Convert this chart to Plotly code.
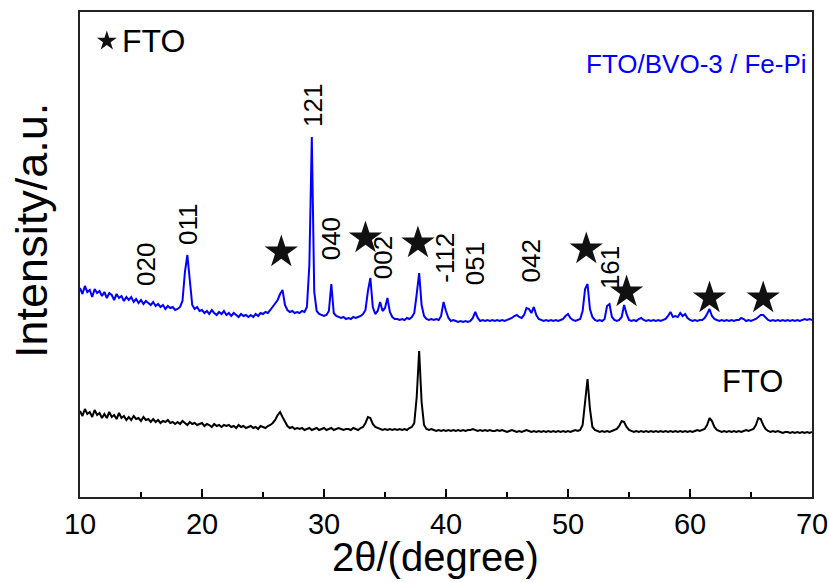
import numpy as np
import plotly.graph_objects as go

# 2-theta sampling grid (degrees), step 0.2
two_theta = np.round(np.arange(10.0, 70.0001, 0.2), 1)

# FTO/BVO-3 / Fe-Pi pattern (offset, arbitrary units)
bvo_intensity = [
    209, 203, 211, 205, 207, 200, 208, 204, 206, 201,
    205, 199, 204, 202, 197, 203, 199, 201, 196, 200,
    197, 200, 195, 198, 194, 197, 193, 196, 194, 192,
    195, 191, 193, 190, 192, 188, 191, 189, 190, 187,
    188, 190, 196, 225, 242, 215, 192, 188, 190, 186,
    187, 184, 186, 183, 187, 184, 182, 185, 183, 186,
    182, 184, 181, 184, 182, 180, 183, 181, 182, 180,
    182, 180, 183, 181, 184, 183, 185, 184, 187, 190,
    193, 197, 203, 207, 192, 187, 185, 186, 184, 185,
    184, 186, 185, 190, 232, 360, 205, 186, 183, 182,
    181, 182, 186, 213, 184, 181, 180, 179, 180, 178,
    179, 178, 180, 179, 180, 181, 183, 187, 206, 219,
    190, 183, 186, 195, 186, 189, 199, 185, 180, 178,
    178, 177, 178, 177, 179, 178, 180, 184, 203, 224,
    192, 181, 178, 177, 178, 177, 178, 177, 181, 195,
    186, 179, 176, 177, 176, 175, 176, 175, 176, 175,
    176, 179, 185, 179, 176, 177, 176, 177, 176, 177,
    176, 177, 176, 177, 176, 177, 178, 179, 181, 182,
    180, 179, 182, 189, 188, 184, 190, 182, 178, 177,
    176, 177, 176, 177, 176, 177, 176, 177, 178, 181,
    183, 179, 177, 176, 177, 178, 186, 208, 213, 188,
    180, 177, 176, 177, 176, 178, 191, 193, 180, 177,
    176, 177, 180, 192, 183, 177, 176, 177, 176, 178,
    179, 177, 176, 177, 176, 177, 176, 177, 176, 177,
    178, 181, 185, 180, 181, 180, 184, 181, 183, 179,
    177, 176, 177, 176, 177, 177, 179, 183, 188, 181,
    178, 177, 176, 177, 176, 177, 176, 177, 176, 177,
    177, 179, 178, 176, 177, 176, 177, 178, 180, 182,
    182, 179, 177, 176, 177, 176, 177, 176, 177, 176,
    177, 176, 177, 176, 177, 176, 177, 178, 177, 178,
    177,
]

# bare FTO pattern (arbitrary units)
fto_intensity = [
    86, 81, 88, 83, 85, 80, 87, 82, 84, 79,
    83, 79, 85, 80, 82, 78, 84, 79, 81, 77,
    80, 77, 81, 78, 79, 76, 80, 77, 78, 75,
    78, 75, 77, 74, 76, 75, 77, 74, 75, 73,
    75, 73, 76, 74, 72, 75, 73, 74, 72, 73,
    74, 71, 73, 72, 70, 73, 71, 72, 70, 72,
    71, 72, 70, 71, 69, 72, 70, 71, 69, 70,
    71, 69, 70, 68, 71, 70, 69, 71, 72, 74,
    77, 82, 85, 80, 75, 71, 69, 70, 68, 69,
    68, 69, 67, 68, 69, 67, 68, 69, 67, 68,
    69, 67, 68, 69, 67, 68, 69, 68, 67, 68,
    68, 67, 69, 68, 67, 69, 70, 74, 80, 79,
    73, 70, 69, 68, 67, 68, 67, 68, 67, 68,
    67, 68, 67, 68, 67, 69, 70, 74, 100, 146,
    95, 72, 68, 67, 68, 67, 66, 67, 66, 67,
    66, 67, 66, 67, 66, 67, 66, 67, 66, 67,
    67, 68, 67, 66, 67, 66, 67, 66, 67, 66,
    66, 67, 66, 67, 66, 65, 66, 67, 66, 65,
    66, 65, 66, 67, 66, 65, 66, 65, 66, 65,
    66, 65, 66, 65, 66, 65, 66, 65, 66, 65,
    66, 65, 66, 67, 66, 67, 72, 92, 118, 88,
    70, 67, 66, 65, 66, 65, 66, 65, 66, 67,
    68, 71, 76, 75, 70, 67, 66, 65, 66, 65,
    66, 65, 66, 65, 66, 65, 66, 65, 66, 65,
    66, 65, 66, 65, 66, 65, 66, 65, 66, 65,
    66, 65, 66, 67, 66, 67, 68, 72, 79, 76,
    70, 67, 66, 65, 66, 65, 66, 65, 66, 65,
    66, 65, 66, 67, 66, 67, 68, 72, 79, 78,
    72, 68, 66, 65, 66, 65, 66, 65, 64, 65,
    65, 64, 65, 64, 65, 64, 65, 64, 65, 64,
    65,
]

# FTO reflections marked with stars
star_angles = [26.5, 33.4, 37.7, 51.5, 54.8, 61.6, 66.0]
star_heights = [245, 259, 254, 248, 205, 199, 199]

# BiVO4 Miller indices
hkl_labels = ["020", "011", "121", "040", "002", "-112", "051", "042", "161"]
hkl_angles = [15.4, 18.85, 29.1, 30.6, 34.85, 39.9, 42.4, 47.0, 53.45]
hkl_heights = [233, 273, 391, 258, 239, 239, 233, 236, 229]

FONT = "Liberation Sans, Arial, sans-serif"

fig = go.Figure()
fig.add_trace(go.Scatter(x=two_theta, y=fto_intensity, mode="lines",
                         line=dict(color="#000000", width=2), showlegend=False))
fig.add_trace(go.Scatter(x=two_theta, y=bvo_intensity, mode="lines",
                         line=dict(color="#0000ff", width=2), showlegend=False))
fig.add_trace(go.Scatter(x=star_angles, y=star_heights, mode="markers",
                         marker=dict(symbol="star", size=25, color="#111111",
                                     line=dict(width=0)), showlegend=False))
# legend symbol
fig.add_trace(go.Scatter(x=[12.2], y=[456], mode="markers",
                         marker=dict(symbol="star", size=15, color="#111111",
                                     line=dict(width=0)), showlegend=False))

annotations = []
for lab, ang, h in zip(hkl_labels, hkl_angles, hkl_heights):
    annotations.append(dict(x=ang, y=h, xref="x", yref="y", text=lab, textangle=-90,
                            xanchor="center", yanchor="middle",
                            showarrow=False, font=dict(family=FONT, size=26, color="black")))
annotations += [
    dict(x=13.3, y=456, xref="x", yref="y", text="FTO", xanchor="left", yanchor="middle",
         showarrow=False, font=dict(family=FONT, size=32, color="black")),
    dict(x=69.75, y=433, xref="x", yref="y", text="FTO/BVO-3 / Fe-Pi", xanchor="right",
         yanchor="middle", showarrow=False, font=dict(family=FONT, size=26, color="#0000ff")),
    dict(x=65.1, y=116, xref="x", yref="y", text="FTO", xanchor="center", yanchor="middle",
         showarrow=False, font=dict(family=FONT, size=31, color="black")),
    dict(x=0.486, y=-0.124, xref="paper", yref="paper", text="2θ/(degree)",
         xanchor="center", yanchor="middle", showarrow=False,
         font=dict(family=FONT, size=40, color="black")),
    dict(x=-0.066, y=0.55, xref="paper", yref="paper", text="Intensity/a.u.", textangle=-90,
         xanchor="center", yanchor="middle", showarrow=False,
         font=dict(family=FONT, size=45, color="black")),
]

fig.update_layout(
    width=830, height=582,
    margin=dict(l=80, r=18, t=12, b=85, autoexpand=False),
    paper_bgcolor="white", plot_bgcolor="white",
    annotations=annotations,
    font=dict(family=FONT, color="black"),
)
fig.update_xaxes(range=[10, 70], tickvals=[10, 20, 30, 40, 50, 60, 70],
                 ticks="inside", ticklen=8, tickwidth=1.5, tickcolor="black",
                 minor=dict(tickvals=[15, 25, 35, 45, 55, 65], ticks="inside", ticklen=5,
                            tickwidth=1.5, tickcolor="black"),
                 showline=True, linecolor="#222222", linewidth=2, mirror=True,
                 showgrid=False, zeroline=False, automargin=False,
                 tickfont=dict(family=FONT, size=29, color="black"))
fig.update_yaxes(range=[0, 485], showticklabels=False, ticks="",
                 showline=True, linecolor="#222222", linewidth=2, mirror=True,
                 showgrid=False, zeroline=False, automargin=False)

fig.write_html("out.html", config={"displayModeBar": False},
               post_script="document.body.style.margin='0px';")
